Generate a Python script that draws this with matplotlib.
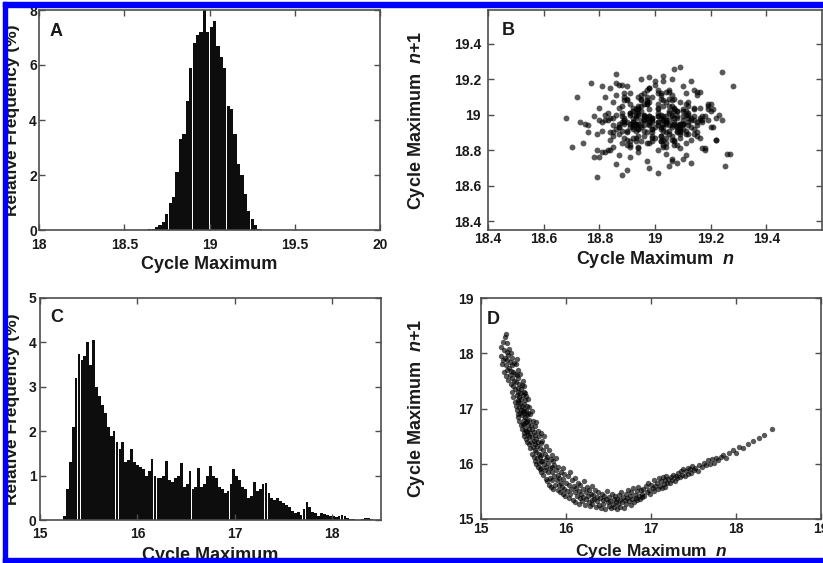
import matplotlib.pyplot as plt
from matplotlib.patches import Rectangle
from matplotlib.ticker import FuncFormatter
import numpy as np

# Panel A: relative frequency (%) of cycle maxima, 0.02 wide bins
a_bin_start = 18.65
a_bin_width = 0.02
a_freq = [0.03, 0.05, 0.1, 0.2, 0.3, 0.6, 1.0, 1.2, 2.1, 3.3,
          3.5, 4.7, 5.9, 6.8, 7.1, 7.2, 8.0, 7.2, 7.4, 7.6,
          6.7, 6.3, 5.9, 4.5, 4.4, 3.5, 2.4, 2.0, 1.3, 0.7,
          0.4, 0.2, 0.05]

# Panel B: cloud of (cycle maximum n, cycle maximum n+1) points
b_x = [
    19.03, 19.08, 18.95, 18.88, 18.98, 19.01, 19.14, 19.06, 18.91, 19.04, 18.97, 18.93, 18.85, 19.10, 19.02, 19.19, 18.94, 18.99, 19.05, 19.11,
    18.92, 18.96, 19.07, 18.82, 19.03, 19.09, 19.13, 18.98, 18.90, 18.94, 19.01, 18.87, 19.16, 19.04, 18.79, 18.95, 19.08, 19.02, 18.89, 19.06,
    19.12, 18.97, 18.91, 18.86, 19.05, 19.22, 18.93, 19.01, 19.08, 18.84, 18.98, 19.10, 19.03, 18.94, 18.75, 19.15, 19.07, 18.96, 19.00, 18.88,
    19.06, 19.11, 19.17, 18.95, 18.90, 19.02, 18.92, 18.81, 19.04, 19.09, 18.99, 18.87, 19.14, 19.20, 18.97, 19.07, 18.89, 18.94, 19.12, 18.78,
    18.96, 19.03, 19.09, 18.85, 18.93, 19.18, 19.05, 18.98, 18.88, 19.01, 19.24, 18.91, 18.83, 19.08, 19.13, 18.94, 18.99, 19.04, 18.72, 19.10,
    19.02, 18.95, 18.89, 19.07, 19.15, 19.01, 18.92, 18.97, 19.11, 18.80, 19.06, 19.09, 18.86, 18.98, 19.03, 19.16, 18.93, 18.90, 19.05, 19.21,
    18.94, 18.87, 19.04, 19.12, 18.99, 18.91, 18.76, 19.08, 19.02, 19.14, 18.96, 19.06, 18.84, 18.92, 19.19, 19.03, 18.89, 19.10, 18.97, 18.82,
    19.09, 19.01, 18.93, 19.17, 19.05, 18.88, 18.98, 18.95, 19.13, 19.26, 18.90, 19.04, 18.85, 19.07, 18.99, 19.11, 18.81, 18.94, 19.02, 19.15,
    18.91, 19.06, 18.97, 18.86, 19.10, 19.20, 19.03, 18.93, 18.79, 19.01, 19.08, 18.89, 19.05, 18.96, 19.14, 18.83, 18.98, 19.12, 19.07, 18.92,
    19.04, 18.87, 18.94, 19.16, 19.02, 18.99, 18.91, 19.23, 19.09, 18.84, 18.96, 19.03, 19.11, 18.74, 19.06, 18.92, 19.18, 19.01, 18.88, 18.97,
    19.13, 19.07, 18.90, 18.95, 19.05, 18.82, 19.15, 19.00, 18.93, 19.10, 19.22, 18.98, 18.87, 19.03, 18.70, 19.08, 18.96, 19.12, 18.91, 19.02,
    18.99, 18.86, 19.06, 19.19, 18.94, 19.04, 18.89, 18.80, 19.09, 19.01, 18.97, 19.14, 18.92, 19.27, 18.85, 19.05, 19.10, 18.95, 18.77, 19.07,
    19.03, 18.91, 19.12, 19.17, 18.98, 18.88, 19.08, 18.96, 18.83, 19.06, 19.21, 18.93, 19.01, 18.90, 19.04, 19.13, 18.81, 19.09, 18.99, 18.94,
    19.11, 18.97, 18.92, 19.02, 19.16, 18.87, 18.73, 19.07, 19.05, 18.95, 19.10, 18.85, 19.03, 19.24, 18.90, 18.99, 19.08, 18.78, 19.14, 19.00,
    18.93, 19.06, 19.18, 18.89, 18.96, 19.09, 18.98, 18.84, 19.12, 19.01, 18.91, 18.80, 19.15, 19.04, 18.94, 19.20, 18.88, 19.03, 19.07, 18.86,
    19.02, 19.13, 18.95, 18.99, 18.82, 19.10, 19.25, 18.92, 19.05, 18.88, 18.97, 19.16, 19.08, 18.76, 18.94, 19.11, 19.01, 18.90, 19.19, 18.98,
    18.85, 19.07, 19.03, 18.91, 19.14, 18.96, 18.87, 19.09, 19.22, 18.93, 19.00, 18.81, 19.06, 19.12, 18.98, 18.89, 19.04, 18.68, 19.10, 19.05,
    18.95, 19.17, 18.92, 19.01, 18.86, 19.11, 19.06, 18.79, 18.97, 19.08, 19.28, 18.90, 19.02, 18.94, 19.15, 18.84, 19.09, 18.99, 18.91, 19.04,
]
b_y = [
    18.99, 18.90, 19.05, 18.96, 18.84, 19.12, 18.97, 18.93, 19.01, 18.78, 19.08, 18.95, 18.98, 19.16, 18.88, 19.03, 18.92, 18.96, 18.71, 19.06,
    18.94, 19.00, 18.86, 19.10, 18.97, 18.91, 19.19, 18.99, 18.83, 18.95, 19.04, 18.89, 18.97, 19.13, 18.80, 18.93, 19.02, 18.98, 18.87, 19.08,
    18.96, 18.74, 19.01, 18.92, 19.14, 18.98, 18.85, 19.06, 18.94, 18.90, 19.21, 18.97, 18.82, 19.03, 18.95, 18.88, 19.09, 18.99, 18.93, 18.66,
    19.05, 18.91, 18.97, 19.11, 18.86, 19.00, 18.95, 18.79, 19.07, 18.93, 18.98, 19.17, 18.89, 19.02, 18.84, 18.96, 19.12, 18.92, 19.00, 18.76,
    18.99, 19.08, 18.87, 18.94, 19.03, 18.81, 18.97, 19.15, 18.91, 18.96, 19.24, 18.85, 19.01, 18.93, 18.73, 19.05, 18.98, 18.90, 19.10, 18.95,
    18.88, 19.02, 18.96, 18.83, 19.13, 18.99, 18.92, 19.06, 18.77, 18.97, 19.00, 18.89, 19.18, 18.94, 18.86, 19.04, 18.98, 18.69, 19.09, 18.93,
    19.01, 18.95, 18.82, 19.07, 18.97, 19.12, 18.90, 18.99, 18.85, 19.03, 18.94, 19.20, 18.80, 18.96, 19.05, 18.91, 18.98, 18.75, 19.10, 18.97,
    18.92, 19.14, 18.87, 18.99, 19.02, 18.84, 18.95, 19.08, 18.93, 18.78, 19.16, 18.97, 18.90, 19.04, 18.88, 19.00, 18.96, 18.82, 19.11, 18.94,
    19.06, 18.86, 18.98, 18.72, 19.03, 18.93, 19.19, 18.95, 18.89, 19.01, 18.83, 18.97, 19.13, 18.91, 18.99, 18.80, 19.07, 18.94, 19.26, 18.87,
    18.96, 19.04, 18.81, 18.98, 19.09, 18.92, 18.76, 19.00, 18.95, 19.15, 18.88, 18.97, 19.02, 18.84, 19.11, 18.93, 18.99, 18.67, 19.05, 18.90,
    18.97, 18.85, 19.08, 18.94, 19.01, 18.79, 18.96, 19.17, 18.91, 18.99, 18.86, 19.03, 18.93, 19.22, 18.82, 18.98, 19.06, 18.89, 18.95, 19.12,
    18.90, 19.00, 18.74, 18.97, 19.10, 18.87, 18.95, 19.04, 18.81, 18.99, 19.14, 18.92, 18.96, 18.78, 19.07, 18.94, 19.02, 18.85, 19.18, 18.98,
    18.93, 18.83, 19.05, 18.96, 18.70, 19.01, 18.91, 19.12, 18.97, 18.88, 19.03, 18.94, 18.80, 19.09, 18.99, 18.86, 19.16, 18.95, 18.92, 19.00,
    18.84, 19.07, 18.98, 18.93, 19.13, 18.77, 18.96, 19.02, 18.89, 19.20, 18.95, 18.82, 19.05, 18.97, 18.91, 19.10, 18.73, 18.99, 19.04, 18.87,
    19.01, 18.94, 18.80, 19.08, 18.97, 18.90, 19.15, 18.86, 18.98, 19.03, 18.93, 18.76, 19.11, 18.96, 18.88, 19.06, 18.99, 18.83, 18.95, 19.23,
    18.92, 18.98, 19.09, 18.85, 19.00, 18.95, 18.71, 19.04, 18.91, 19.17, 18.97, 18.87, 19.02, 18.94, 18.79, 19.12, 18.96, 18.90, 19.06, 18.99,
    18.88, 19.03, 18.95, 18.82, 19.14, 18.97, 18.93, 19.07, 18.86, 18.99, 19.19, 18.91, 18.75, 19.01, 18.96, 19.10, 18.84, 18.98, 18.92, 19.05,
    18.97, 18.81, 19.02, 18.94, 19.11, 18.89, 18.99, 18.65, 19.06, 18.93, 19.16, 18.96, 18.85, 19.04, 18.90, 18.98, 19.27, 18.87, 19.00, 18.95,
]

# Panel C: relative frequency (%) of cycle maxima, 0.03 wide bins
c_bin_start = 15.25
c_bin_width = 0.03
c_freq = [0.1, 0.7, 1.3, 2.1, 3.2, 3.75, 3.6, 3.7, 4.0, 3.5,
          4.05, 3.0, 2.8, 2.6, 2.4, 2.1, 1.9, 2.0, 1.75, 1.6,
          1.75, 1.3, 1.35, 1.6, 1.3, 1.25, 1.2, 1.15, 1.0, 1.1,
          1.38, 1.0, 0.95, 0.95, 1.0, 1.32, 0.9, 0.85, 0.95, 1.0,
          1.28, 0.75, 0.8, 1.1, 0.7, 0.75, 1.17, 0.75, 0.8, 1.0,
          1.22, 1.0, 0.95, 0.75, 0.7, 0.6, 0.65, 0.8, 1.15, 1.0,
          0.9, 0.75, 0.7, 0.5, 0.55, 0.86, 0.65, 0.7, 0.8, 0.83,
          0.6, 0.5, 0.45, 0.5, 0.42, 0.38, 0.34, 0.3, 0.2, 0.15,
          0.17, 0.12, 0.25, 0.41, 0.3, 0.19, 0.15, 0.1, 0.15, 0.14,
          0.12, 0.1, 0.08, 0.06, 0.08, 0.11, 0.1, 0.05, 0.03, 0.02,
          0.01, 0.0, 0.02, 0.04, 0.04, 0.02]

# Panel D: return map points (cycle maximum n, cycle maximum n+1)
d_points = [
    (15.23, 17.95), (15.24, 18.12), (15.25, 17.80), (15.26, 18.20), (15.26, 17.88), (15.27, 17.66), (15.27, 18.05),
    (15.28, 17.92), (15.28, 18.30), (15.29, 17.58), (15.29, 17.78), (15.30, 18.02), (15.30, 17.70), (15.31, 17.88),
    (15.31, 18.18), (15.32, 17.52), (15.32, 17.96), (15.33, 17.74), (15.33, 18.08), (15.34, 17.60), (15.34, 17.85),
    (15.35, 17.45), (15.35, 17.68), (15.35, 18.00), (15.36, 17.30), (15.36, 17.78), (15.37, 17.56), (15.37, 17.92),
    (15.38, 17.40), (15.38, 17.66), (15.38, 17.20), (15.39, 17.50), (15.39, 17.82), (15.40, 17.12), (15.40, 17.35),
    (15.40, 17.62), (15.29, 18.35),
    (15.41, 17.05), (15.41, 17.48), (15.41, 17.80), (15.42, 17.25), (15.42, 17.60), (15.42, 16.98), (15.43, 17.38),
    (15.43, 17.70), (15.43, 17.15), (15.44, 16.85), (15.44, 17.30), (15.44, 17.55), (15.45, 17.02), (15.45, 17.20),
    (15.45, 17.45), (15.45, 16.78), (15.46, 17.62), (15.46, 17.10), (15.46, 16.92), (15.47, 17.35), (15.47, 16.70),
    (15.47, 17.18), (15.48, 16.88), (15.48, 17.05), (15.48, 17.42), (15.48, 16.62), (15.49, 17.25), (15.49, 16.95),
    (15.49, 17.50), (15.50, 16.55), (15.50, 16.80), (15.50, 17.08), (15.50, 17.30), (15.51, 16.72), (15.51, 17.00),
    (15.51, 16.50), (15.51, 17.40), (15.52, 16.85), (15.52, 17.15), (15.52, 16.62), (15.53, 16.45), (15.53, 16.95),
    (15.53, 17.22), (15.53, 16.75), (15.54, 16.58), (15.54, 17.05), (15.54, 16.88), (15.54, 16.40), (15.55, 16.70),
    (15.55, 17.18), (15.55, 16.52), (15.55, 16.92), (15.42, 17.90), (15.44, 17.12), (15.46, 17.28), (15.47, 16.98),
    (15.49, 16.72), (15.50, 16.92), (15.52, 17.28), (15.53, 16.60), (15.54, 16.78), (15.43, 16.90),
    (15.56, 16.35), (15.56, 16.62), (15.56, 17.02), (15.57, 16.48), (15.57, 16.80), (15.58, 16.28), (15.58, 16.55),
    (15.58, 16.90), (15.59, 16.40), (15.59, 16.70), (15.60, 16.18), (15.60, 16.48), (15.60, 16.62), (15.60, 16.95),
    (15.61, 16.30), (15.61, 16.78), (15.62, 16.12), (15.62, 16.42), (15.62, 16.58), (15.63, 16.25), (15.63, 16.68),
    (15.63, 16.05), (15.64, 16.36), (15.64, 16.52), (15.65, 16.00), (15.65, 16.22), (15.65, 16.45), (15.65, 16.75),
    (15.66, 16.10), (15.66, 16.32), (15.67, 15.95), (15.67, 16.40), (15.67, 16.60), (15.68, 16.18), (15.68, 16.02),
    (15.68, 16.50), (15.69, 15.90), (15.69, 16.28), (15.69, 16.12), (15.70, 16.38), (15.70, 15.85), (15.70, 16.05),
    (15.70, 16.55),
    (15.71, 16.15), (15.71, 15.92), (15.72, 16.42), (15.72, 16.05), (15.73, 15.80), (15.73, 16.25), (15.74, 16.00),
    (15.74, 16.50), (15.75, 15.88), (15.75, 16.18), (15.76, 15.72), (15.76, 16.08), (15.77, 16.32), (15.77, 15.95),
    (15.78, 15.68), (15.78, 16.12), (15.79, 15.85), (15.79, 16.02), (15.80, 15.62), (15.80, 16.25), (15.81, 15.92),
    (15.81, 15.75), (15.82, 16.08), (15.82, 15.58), (15.83, 15.85), (15.83, 16.15), (15.84, 15.70), (15.84, 15.95),
    (15.85, 15.55), (15.85, 16.05),
    (15.86, 15.78), (15.86, 15.98), (15.87, 15.62), (15.88, 15.88), (15.88, 16.10), (15.89, 15.70), (15.90, 15.52),
    (15.90, 15.80), (15.91, 15.95), (15.92, 15.62), (15.92, 15.75), (15.93, 15.48), (15.94, 15.85), (15.94, 15.66),
    (15.95, 15.58), (15.96, 15.92), (15.96, 15.45), (15.97, 15.72), (15.98, 15.55), (15.98, 15.82), (15.99, 15.42),
    (16.00, 15.65),
    (16.01, 15.50), (16.02, 15.78), (16.03, 15.38), (16.04, 15.62), (16.05, 15.85), (16.05, 15.45), (16.06, 15.55),
    (16.07, 15.70), (16.08, 15.35), (16.09, 15.60), (16.10, 15.48), (16.10, 15.75), (16.11, 15.30), (16.12, 15.56),
    (16.13, 15.42), (16.14, 15.66), (16.15, 15.50), (16.15, 15.28), (16.16, 15.38), (16.17, 15.62), (16.18, 15.46),
    (16.19, 15.32), (16.20, 15.55), (16.20, 15.40), (16.21, 15.68), (16.22, 15.26), (16.23, 15.48), (16.24, 15.36),
    (16.25, 15.58), (16.26, 15.42), (16.27, 15.30), (16.27, 15.52), (16.28, 15.24), (16.29, 15.45), (16.30, 15.35),
    (16.30, 15.60),
    (16.31, 15.28), (16.32, 15.44), (16.33, 15.36), (16.34, 15.52), (16.35, 15.22), (16.36, 15.40), (16.37, 15.32),
    (16.38, 15.48), (16.39, 15.26), (16.40, 15.38), (16.41, 15.20), (16.42, 15.45), (16.43, 15.34), (16.44, 15.28),
    (16.45, 15.42), (16.46, 15.18), (16.47, 15.36), (16.48, 15.50), (16.49, 15.30), (16.50, 15.24), (16.51, 15.40),
    (16.52, 15.33), (16.53, 15.20), (16.54, 15.45), (16.55, 15.28), (16.56, 15.37), (16.57, 15.22), (16.58, 15.42),
    (16.59, 15.30), (16.60, 15.18), (16.60, 15.36),
    (16.61, 15.28), (16.62, 15.44), (16.63, 15.22), (16.64, 15.35), (16.65, 15.48), (16.66, 15.30), (16.67, 15.40),
    (16.68, 15.20), (16.69, 15.34), (16.70, 15.46), (16.71, 15.28), (16.72, 15.38), (16.73, 15.52), (16.74, 15.32),
    (16.75, 15.42), (16.76, 15.26), (16.77, 15.48), (16.78, 15.36), (16.79, 15.56), (16.80, 15.30), (16.81, 15.44),
    (16.82, 15.38), (16.83, 15.50), (16.84, 15.34), (16.85, 15.58), (16.86, 15.42), (16.87, 15.36), (16.88, 15.52),
    (16.89, 15.46), (16.90, 15.40),
    (16.91, 15.55), (16.92, 15.42), (16.94, 15.60), (16.95, 15.48), (16.96, 15.66), (16.98, 15.52), (16.99, 15.45),
    (17.00, 15.62), (17.02, 15.56), (17.03, 15.70), (17.04, 15.50), (17.05, 15.60), (17.07, 15.66), (17.08, 15.54),
    (17.09, 15.74), (17.10, 15.60), (17.12, 15.68), (17.13, 15.56), (17.14, 15.76), (17.15, 15.64), (17.16, 15.70),
    (17.17, 15.58), (17.18, 15.78), (17.19, 15.66), (17.20, 15.72),
    (17.22, 15.65), (17.23, 15.76), (17.25, 15.70), (17.26, 15.80), (17.28, 15.68), (17.29, 15.78), (17.31, 15.74),
    (17.32, 15.84), (17.34, 15.76), (17.35, 15.86), (17.37, 15.80), (17.38, 15.90), (17.40, 15.78), (17.41, 15.86),
    (17.43, 15.92), (17.44, 15.82), (17.46, 15.90), (17.47, 15.84), (17.48, 15.96), (17.50, 15.88),
    (17.52, 15.92), (17.55, 15.86), (17.57, 15.98), (17.60, 15.94), (17.62, 16.02), (17.65, 15.98), (17.67, 16.06),
    (17.69, 16.00), (17.72, 16.08), (17.74, 16.02), (17.77, 16.10), (17.79, 16.06),
    (17.82, 16.12), (17.85, 16.16), (17.88, 16.10), (17.92, 16.20), (17.96, 16.24), (18.00, 16.20), (18.04, 16.30),
    (18.08, 16.28), (18.14, 16.36), (18.20, 16.42), (18.27, 16.46), (18.33, 16.52), (18.42, 16.62),
]

plt.rcParams['font.family'] = ['Liberation Sans', 'DejaVu Sans']
plt.rcParams['font.weight'] = 'bold'
plt.rcParams['axes.labelweight'] = 'bold'
plt.rcParams['mathtext.fontset'] = 'custom'
plt.rcParams['mathtext.it'] = 'Liberation Sans:italic:bold'
plt.rcParams['mathtext.rm'] = 'Liberation Sans:bold'

TEXT = '#1a1a1a'
AXIS = '#4d4d4d'
W, H = 823, 563

fig = plt.figure(figsize=(W / 100, H / 100), dpi=100)


def panel(left, top, right, bottom):
    # pixel box -> figure fraction
    return fig.add_axes([left / W, 1 - bottom / H, (right - left) / W, (bottom - top) / H])


fmt = FuncFormatter(lambda v, pos: f'{v:g}')


def style(ax, letter, dx, dy, xpad, ypad):
    for s in ax.spines.values():
        s.set_color(AXIS)
        s.set_linewidth(1.2)
    ax.tick_params(direction='in', top=True, right=True, length=4, width=1,
                   colors=AXIS, labelcolor=TEXT, labelsize=10)
    ax.tick_params(axis='x', pad=xpad)
    ax.tick_params(axis='y', pad=ypad)
    ax.xaxis.set_major_formatter(fmt)
    ax.yaxis.set_major_formatter(fmt)
    bb = ax.get_position()
    ax.text(dx / (bb.width * W), 1 - dy / (bb.height * H), letter, transform=ax.transAxes,
            fontsize=13, fontweight='bold', color=TEXT, ha='left', va='top')


# A
axA = panel(39, 10, 380, 230)
a_centers = a_bin_start + a_bin_width * np.arange(len(a_freq))
axA.bar(a_centers, a_freq, width=a_bin_width * 0.95, color='#0d0d0d', linewidth=0)
axA.set_xlim(18, 20)
axA.set_ylim(0, 8)
axA.set_xticks([18, 18.5, 19, 19.5, 20])
axA.set_yticks([0, 2, 4, 6, 8])
style(axA, 'A', 11, 13, 5.5, 1.5)
axA.set_xlabel('Cycle Maximum', fontsize=13, color=TEXT)
axA.set_ylabel('Relative Frequency (%)', fontsize=12.5, color=TEXT)
axA.xaxis.set_label_coords(0.5, -0.118)
axA.yaxis.set_label_coords(-0.056, 0.5)

# B
axB = panel(488, 10, 822, 230)
axB.scatter(b_x, b_y, s=18, color='#000000', alpha=0.65, linewidths=0)
axB.set_xlim(18.4, 19.6)
axB.set_ylim(18.35, 19.59)
axB.set_xticks([18.4, 18.6, 18.8, 19, 19.2, 19.4])
axB.set_yticks([18.4, 18.6, 18.8, 19, 19.2, 19.4])
style(axB, 'B', 14, 12, 1.5, 5)
axB.set_xlabel(r'Cycle Maximum  $\mathit{n}$', fontsize=13, color=TEXT)
axB.set_ylabel(r'Cycle Maximum  $\mathit{n{+}1}$', fontsize=13, color=TEXT)
axB.xaxis.set_label_coords(0.5, -0.085)
axB.yaxis.set_label_coords(-0.183, 0.5)

# C
axC = panel(40, 298, 381, 520)
c_centers = c_bin_start + c_bin_width * np.arange(len(c_freq))
axC.bar(c_centers, c_freq, width=c_bin_width * 0.95, color='#0d0d0d', linewidth=0)
axC.set_xlim(15, 18.5)
axC.set_ylim(0, 5)
axC.set_xticks([15, 16, 17, 18])
axC.set_yticks([0, 1, 2, 3, 4, 5])
style(axC, 'C', 10, 11, 5, 2.5)
axC.set_xlabel('Cycle Maximum', fontsize=13, color=TEXT)
axC.set_ylabel('Relative Frequency (%)', fontsize=12.5, color=TEXT)
axC.xaxis.set_label_coords(0.5, -0.122)
axC.yaxis.set_label_coords(-0.06, 0.5)

# D
axD = panel(481, 298, 821, 519)
d_x = [p[0] for p in d_points]
d_y = [p[1] for p in d_points]
axD.scatter(d_x, d_y, s=15, color='#000000', alpha=0.65, linewidths=0)
axD.set_xlim(15, 19)
axD.set_ylim(15, 19)
axD.set_xticks([15, 16, 17, 18, 19])
axD.set_yticks([15, 16, 17, 18, 19])
style(axD, 'D', 6, 13, 2, 5)
axD.set_xlabel(r'Cycle Maximum  $\mathit{n}$', fontsize=12.5, color=TEXT)
axD.set_ylabel(r'Cycle Maximum  $\mathit{n{+}1}$', fontsize=13, color=TEXT)
axD.xaxis.set_label_coords(0.5, -0.105)
axD.yaxis.set_label_coords(-0.16, 0.5)

# blue frame (top, left, bottom; the right side is cropped in the original)
blue = '#0000ff'
for x0, y0, x1, y1 in [(3, 2, W, 7), (3, 2, 7, H), (3, 558, W, H)]:
    fig.add_artist(Rectangle((x0 / W, 1 - y1 / H), (x1 - x0) / W, (y1 - y0) / H,
                             transform=fig.transFigure, color=blue, zorder=10))

fig.savefig('out.png', dpi=100)
